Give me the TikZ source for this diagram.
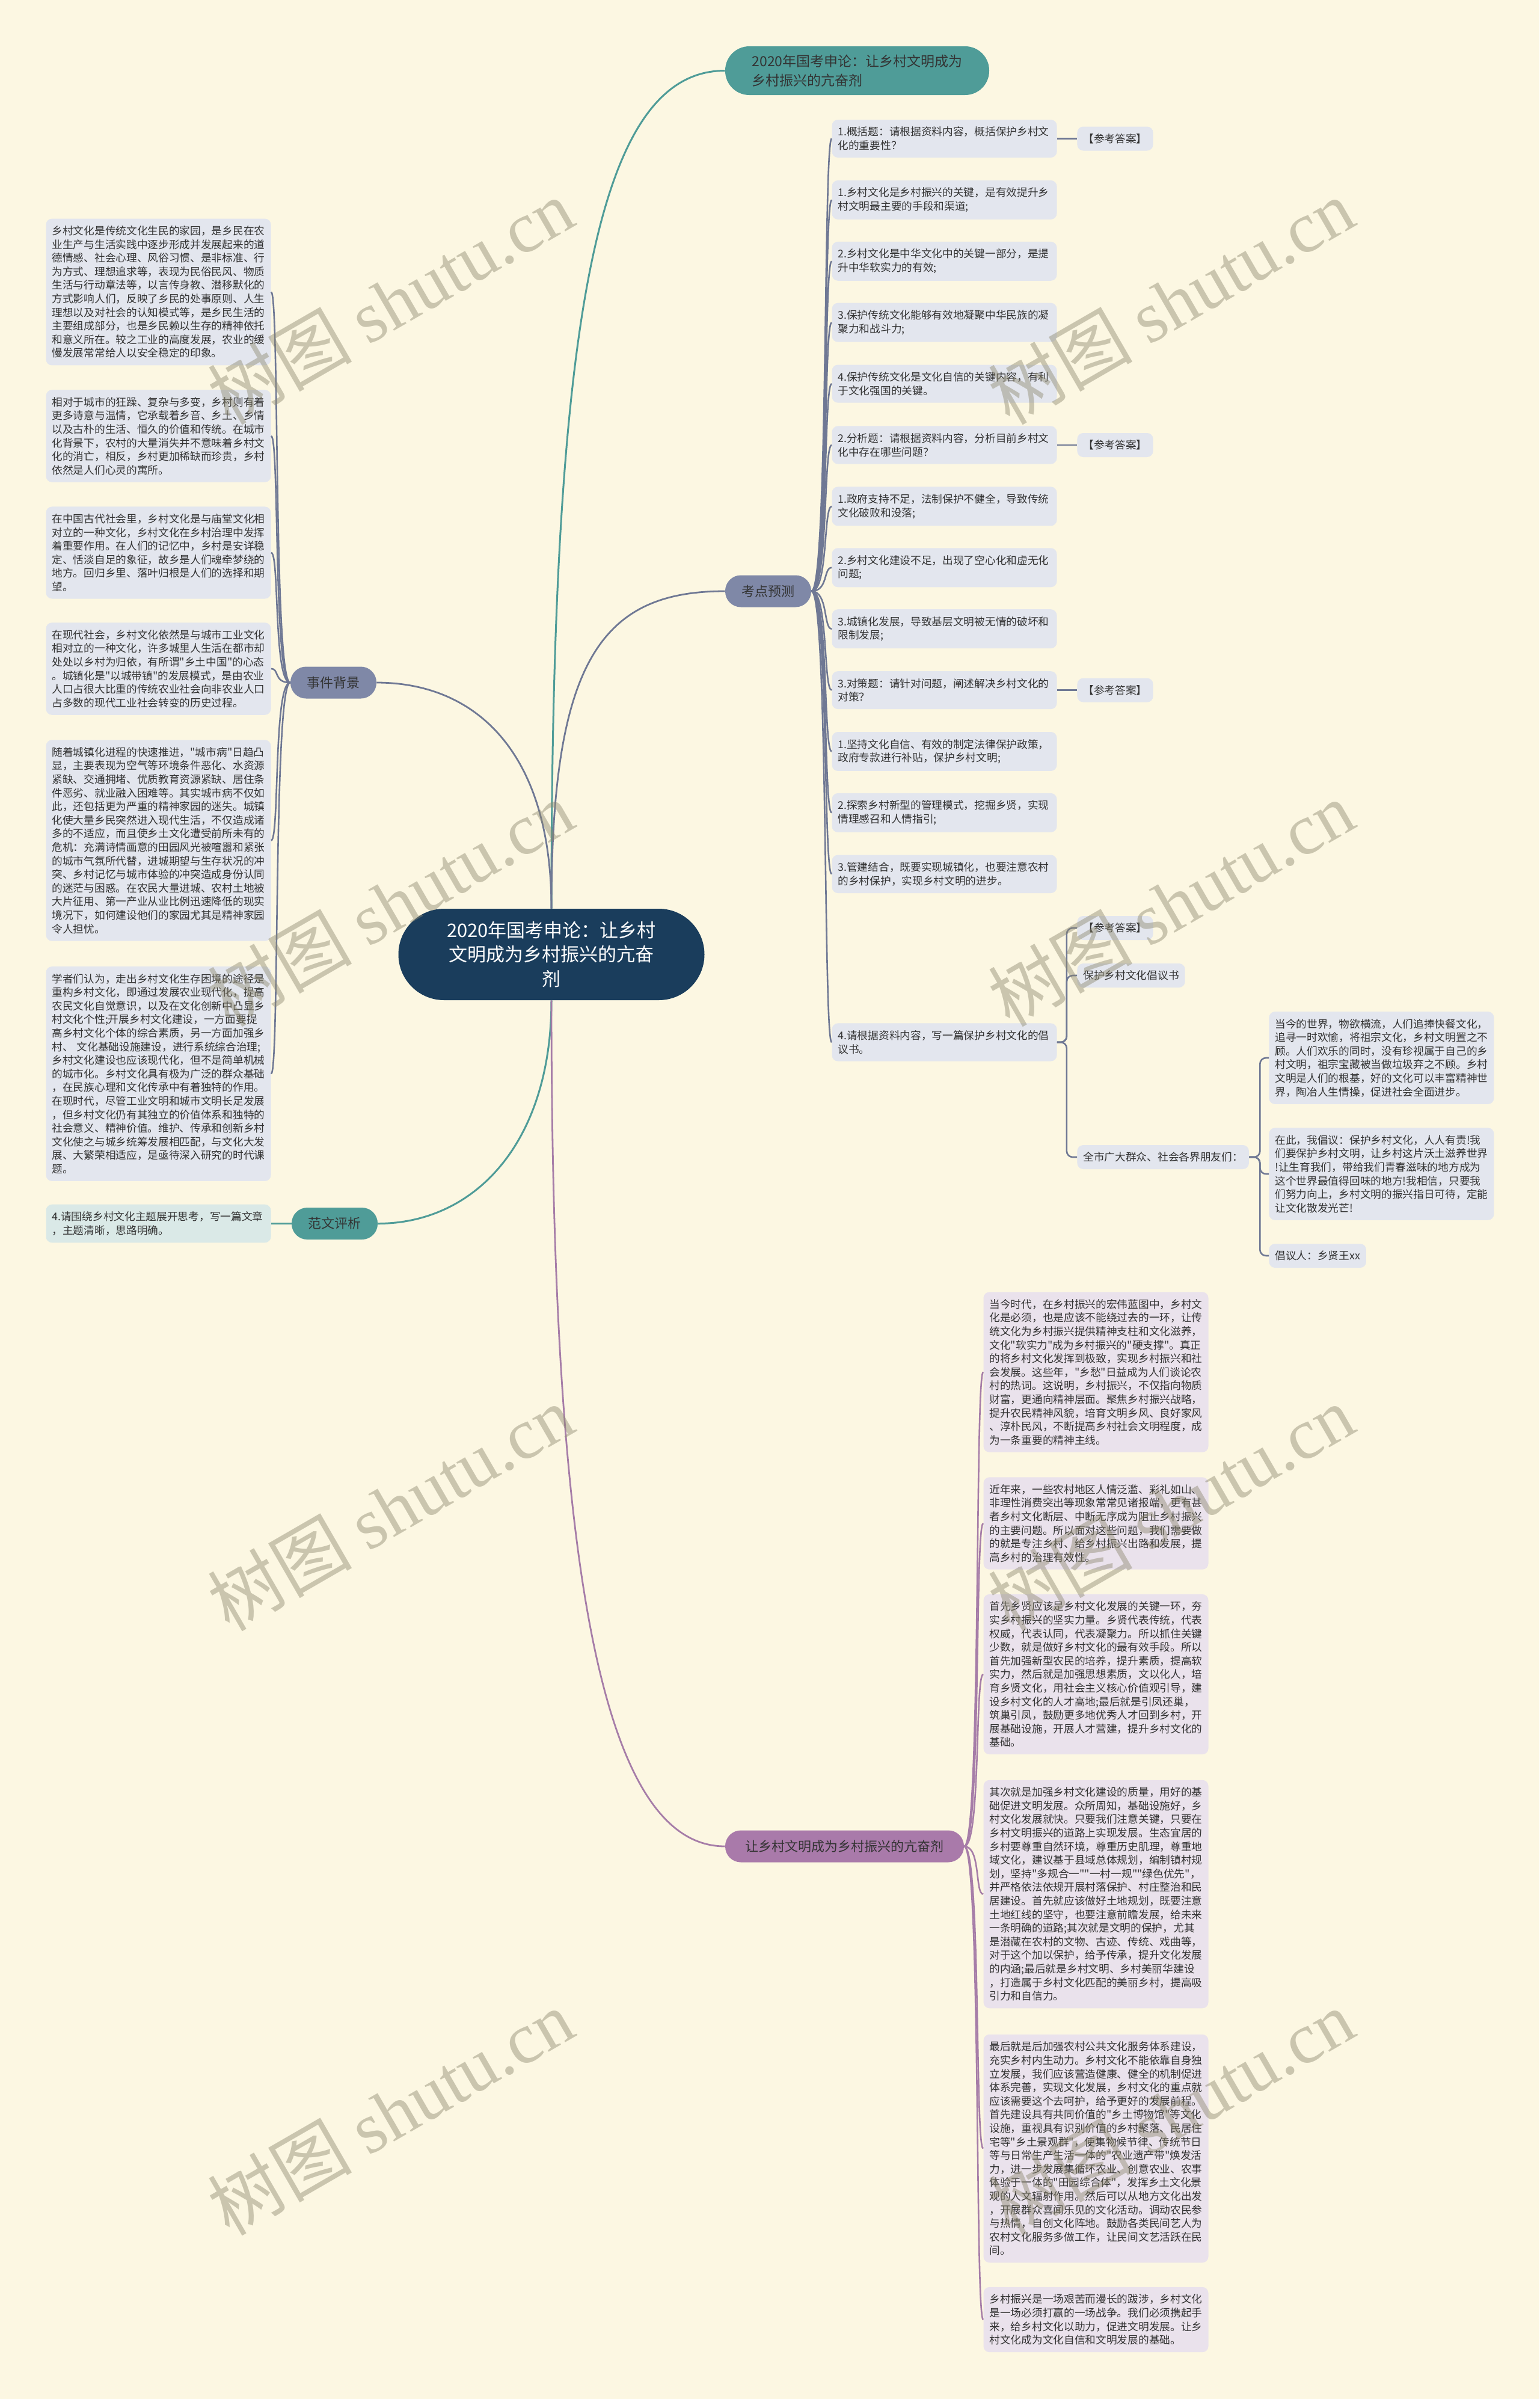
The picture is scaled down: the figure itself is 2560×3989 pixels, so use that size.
\documentclass[tikz,border=0pt]{standalone}
\usepackage{fontspec}
\setmainfont{Noto Sans CJK SC}
\newfontfamily\cjkfont{Noto Sans CJK SC}
\newfontfamily\wmfont{Liberation Serif}
\usetikzlibrary{calc}
\definecolor{bgc}{HTML}{FCF7E2}
\definecolor{rootc}{HTML}{1A3D5C}
\definecolor{tealc}{HTML}{4F9C98}
\definecolor{gbc}{HTML}{7F88A7}
\definecolor{purc}{HTML}{A97AAA}
\definecolor{gbleaf}{HTML}{E3E6EE}
\definecolor{tealleaf}{HTML}{DAE9E7}
\definecolor{purleaf}{HTML}{EAE2EC}
\definecolor{gblinec}{HTML}{6F7894}
\definecolor{purlinec}{HTML}{A67DA8}
\definecolor{txt}{HTML}{333333}
\definecolor{wmc}{HTML}{8E8970}
\tikzset{
  leaf/.style={rectangle, rounded corners=5pt, inner xsep=5pt, inner ysep=6pt, text width=177pt, align=left, font=\cjkfont\fontsize{8.85}{11.3}\selectfont, text=txt},
  gbleafbox/.style={leaf, fill=gbleaf},
  tealleafbox/.style={leaf, fill=tealleaf},
  purleafbox/.style={leaf, fill=purleaf},
  shortleaf/.style={rectangle, rounded corners=5pt, inner xsep=5pt, inner ysep=0pt, minimum height=20pt, font=\cjkfont\fontsize{8.85}{11.3}\selectfont, text=txt, fill=gbleaf, anchor=west},
  mainbox/.style={rectangle, rounded corners=13pt, minimum width=71.5pt, minimum height=26.5pt, inner xsep=8pt, font=\cjkfont\fontsize{11}{13}\selectfont, text=txt},
  gbmain/.style={mainbox, fill=gbc},
  tealmain/.style={mainbox, fill=tealc},
  purmain/.style={mainbox, fill=purc, minimum width=198.5pt},
  rootnode/.style={rectangle, rounded corners=38pt, minimum width=254.5pt, minimum height=76pt, fill=rootc, text=white, align=center, font=\cjkfont\fontsize{15.5}{20.25}\selectfont},
  topnode/.style={rectangle, rounded corners=20pt, minimum width=219.5pt, minimum height=40.5pt, fill=tealc, text=txt, align=left, font=\cjkfont\fontsize{11.5}{15.75}\selectfont},
  tealline/.style={draw=tealc, line width=1.5pt},
  gbline/.style={draw=gblinec, line width=1.4pt},
  gbsub/.style={draw=gblinec, line width=1.3pt},
  purline/.style={draw=purlinec, line width=1.4pt},
  watermark/.style={rotate=30, text=wmc, opacity=0.45, font=\cjkfont\fontsize{60}{60}\selectfont}
}
\begin{document}
\begin{tikzpicture}[x=0.5pt,y=-0.5pt]
\fill[bgc] (0,0) rectangle (2560,3989);
\useasboundingbox (0,0) rectangle (2560,3989);

% main nodes
\node[rootnode] (root) at (917,1587) {2020年国考申论：让乡村\\文明成为乡村振兴的亢奋\\剂};
\node[topnode] (top) at (1425.5,117.5) {2020年国考申论：让乡村文明成为\\乡村振兴的亢奋剂};
\node[gbmain] (kd) at (1277.5,983) {考点预测};
\node[gbmain] (sj) at (554.5,1135) {事件背景};
\node[tealmain] (fw) at (556.5,2034.5) {范文评析};
\node[purmain] (pp) at (1404.5,3070) {让乡村文明成为乡村振兴的亢奋剂};

% kaodian items
\node[gbleafbox] (k1) at (1570.5,230.5) {1.概括题：请根据资料内容，概括保护乡村文\\化的重要性？};
\node[gbleafbox] (k2) at (1570.5,332.4) {1.乡村文化是乡村振兴的关键，是有效提升乡\\村文明最主要的手段和渠道;};
\node[gbleafbox] (k3) at (1570.5,434.3) {2.乡村文化是中华文化中的关键一部分，是提\\升中华软实力的有效;};
\node[gbleafbox] (k4) at (1570.5,536.2) {3.保护传统文化能够有效地凝聚中华民族的凝\\聚力和战斗力;};
\node[gbleafbox] (k5) at (1570.5,638.1) {4.保护传统文化是文化自信的关键内容，有利\\于文化强国的关键。};
\node[gbleafbox] (k6) at (1570.5,740) {2.分析题：请根据资料内容，分析目前乡村文\\化中存在哪些问题？};
\node[gbleafbox] (k7) at (1570.5,841.9) {1.政府支持不足，法制保护不健全，导致传统\\文化破败和没落;};
\node[gbleafbox] (k8) at (1570.5,943.8) {2.乡村文化建设不足，出现了空心化和虚无化\\问题;};
\node[gbleafbox] (k9) at (1570.5,1045.7) {3.城镇化发展，导致基层文明被无情的破坏和\\限制发展;};
\node[gbleafbox] (k10) at (1570.5,1147.6) {3.对策题：请针对问题，阐述解决乡村文化的\\对策？};
\node[gbleafbox] (k11) at (1570.5,1249.5) {1.坚持文化自信、有效的制定法律保护政策，\\政府专款进行补贴，保护乡村文明;};
\node[gbleafbox] (k12) at (1570.5,1351.4) {2.探索乡村新型的管理模式，挖掘乡贤，实现\\情理感召和人情指引;};
\node[gbleafbox] (k13) at (1570.5,1453.3) {3.管建结合，既要实现城镇化，也要注意农村\\的乡村保护，实现乡村文明的进步。};
\node[gbleafbox] (k14) at (1570.5,1733) {4.请根据资料内容，写一篇保护乡村文化的倡\\议书。};

\node[shortleaf] (r1) at (1791,230.5) {【参考答案】};
\node[shortleaf] (r6) at (1791,740) {【参考答案】};
\node[shortleaf] (r10) at (1791,1147.6) {【参考答案】};
\node[shortleaf] (r14) at (1791,1543) {【参考答案】};
\node[shortleaf] (bh) at (1791,1622) {保护乡村文化倡议书};
\node[shortleaf] (qs) at (1791,1924) {全市广大群众、社会各界朋友们：};
\node[gbleafbox, anchor=west] (ta) at (2110,1759) {当今的世界，物欲横流，人们追捧快餐文化，\\追寻一时欢愉，将祖宗文化，乡村文明置之不\\顾。人们欢乐的同时，没有珍视属于自己的乡\\村文明，祖宗宝藏被当做垃圾弃之不顾。乡村\\文明是人们的根基，好的文化可以丰富精神世\\界，陶冶人生情操，促进社会全面进步。};
\node[gbleafbox, anchor=west] (tb) at (2110,1952) {在此，我倡议：保护乡村文化，人人有责!我\\们要保护乡村文明，让乡村这片沃土滋养世界\\!让生育我们，带给我们青春滋味的地方成为\\这个世界最值得回味的地方!我相信，只要我\\们努力向上，乡村文明的振兴指日可待，定能\\让文化散发光芒!};
\node[shortleaf] (tc) at (2110,2088) {倡议人：乡贤王xx};

% left boxes
\node[gbleafbox] (L1) at (263.5,485.5) {乡村文化是传统文化生民的家园，是乡民在农\\业生产与生活实践中逐步形成并发展起来的道\\德情感、社会心理、风俗习惯、是非标准、行\\为方式、理想追求等，表现为民俗民风、物质\\生活与行动章法等，以言传身教、潜移默化的\\方式影响人们，反映了乡民的处事原则、人生\\理想以及对社会的认知模式等，是乡民生活的\\主要组成部分，也是乡民赖以生存的精神依托\\和意义所在。较之工业的高度发展，农业的缓\\慢发展常常给人以安全稳定的印象。};
\node[gbleafbox] (L2) at (263.5,725) {相对于城市的狂躁、复杂与多变，乡村则有着\\更多诗意与温情，它承载着乡音、乡土、乡情\\以及古朴的生活、恒久的价值和传统。在城市\\化背景下，农村的大量消失并不意味着乡村文\\化的消亡，相反，乡村更加稀缺而珍贵，乡村\\依然是人们心灵的寓所。};
\node[gbleafbox] (L3) at (263.5,919) {在中国古代社会里，乡村文化是与庙堂文化相\\对立的一种文化，乡村文化在乡村治理中发挥\\着重要作用。在人们的记忆中，乡村是安详稳\\定、恬淡自足的象征，故乡是人们魂牵梦绕的\\地方。回归乡里、落叶归根是人们的选择和期\\望。};
\node[gbleafbox] (L4) at (263.5,1112) {在现代社会，乡村文化依然是与城市工业文化\\相对立的一种文化，许多城里人生活在都市却\\处处以乡村为归依，有所谓"乡土中国"的心态\\。城镇化是"以城带镇"的发展模式，是由农业\\人口占很大比重的传统农业社会向非农业人口\\占多数的现代工业社会转变的历史过程。};
\node[gbleafbox] (L5) at (263.5,1397.5) {随着城镇化进程的快速推进，"城市病"日趋凸\\显，主要表现为空气等环境条件恶化、水资源\\紧缺、交通拥堵、优质教育资源紧缺、居住条\\件恶劣、就业融入困难等。其实城市病不仅如\\此，还包括更为严重的精神家园的迷失。城镇\\化使大量乡民突然进入现代生活，不仅造成诸\\多的不适应，而且使乡土文化遭受前所未有的\\危机：充满诗情画意的田园风光被喧嚣和紧张\\的城市气氛所代替，进城期望与生存状况的冲\\突、乡村记忆与城市体验的冲突造成身份认同\\的迷茫与困惑。在农民大量进城、农村土地被\\大片征用、第一产业从业比例迅速降低的现实\\境况下，如何建设他们的家园尤其是精神家园\\令人担忧。};
\node[gbleafbox] (L6) at (263.5,1785.5) {学者们认为，走出乡村文化生存困境的途径是\\重构乡村文化，即通过发展农业现代化，提高\\农民文化自觉意识，以及在文化创新中凸显乡\\村文化个性;开展乡村文化建设，一方面要提\\高乡村文化个体的综合素质，另一方面加强乡\\村、~文化基础设施建设，进行系统综合治理;\\乡村文化建设也应该现代化，但不是简单机械\\的城市化。乡村文化具有极为广泛的群众基础\\，在民族心理和文化传承中有着独特的作用。\\在现时代，尽管工业文明和城市文明长足发展\\，但乡村文化仍有其独立的价值体系和独特的\\社会意义、精神价值。维护、传承和创新乡村\\文化使之与城乡统筹发展相匹配，与文化大发\\展、大繁荣相适应，是亟待深入研究的时代课\\题。};
\node[tealleafbox] (L7) at (263.5,2034.5) {4.请围绕乡村文化主题展开思考，写一篇文章\\，主题清晰，思路明确。};

% purple boxes
\node[purleafbox] (P1) at (1822.5,2281.5) {当今时代，在乡村振兴的宏伟蓝图中，乡村文\\化是必须，也是应该不能绕过去的一环，让传\\统文化为乡村振兴提供精神支柱和文化滋养，\\文化"软实力"成为乡村振兴的"硬支撑"。真正\\的将乡村文化发挥到极致，实现乡村振兴和社\\会发展。这些年，"乡愁"日益成为人们谈论农\\村的热词。这说明，乡村振兴，不仅指向物质\\财富，更通向精神层面。聚焦乡村振兴战略，\\提升农民精神风貌，培育文明乡风、良好家风\\、淳朴民风，不断提高乡村社会文明程度，成\\为一条重要的精神主线。};
\node[purleafbox] (P2) at (1822.5,2533) {近年来，一些农村地区人情泛滥、彩礼如山、\\非理性消费突出等现象常常见诸报端，更有甚\\者乡村文化断层、中断无序成为阻止乡村振兴\\的主要问题。所以面对这些问题，我们需要做\\的就是专注乡村、给乡村振兴出路和发展，提\\高乡村的治理有效性。};
\node[purleafbox] (P3) at (1822.5,2784) {首先乡贤应该是乡村文化发展的关键一环，夯\\实乡村振兴的坚实力量。乡贤代表传统，代表\\权威，代表认同，代表凝聚力。所以抓住关键\\少数，就是做好乡村文化的最有效手段。所以\\首先加强新型农民的培养，提升素质，提高软\\实力，然后就是加强思想素质，文以化人，培\\育乡贤文化，用社会主义核心价值观引导，建\\设乡村文化的人才高地;最后就是引凤还巢，\\筑巢引凤，鼓励更多地优秀人才回到乡村，开\\展基础设施，开展人才营建，提升乡村文化的\\基础。};
\node[purleafbox] (P4) at (1822.5,3149.5) {其次就是加强乡村文化建设的质量，用好的基\\础促进文明发展。众所周知，基础设施好，乡\\村文化发展就快。只要我们注意关键，只要在\\乡村文明振兴的道路上实现发展。生态宜居的\\乡村要尊重自然环境，尊重历史肌理，尊重地\\域文化，建议基于县域总体规划，编制镇村规\\划，坚持"多规合一""一村一规""绿色优先"，\\并严格依法依规开展村落保护、村庄整治和民\\居建设。首先就应该做好土地规划，既要注意\\土地红线的坚守，也要注意前瞻发展，给未来\\一条明确的道路;其次就是文明的保护，尤其\\是潜藏在农村的文物、古迹、传统、戏曲等，\\对于这个加以保护，给予传承，提升文化发展\\的内涵;最后就是乡村文明、乡村美丽华建设\\，打造属于乡村文化匹配的美丽乡村，提高吸\\引力和自信力。};
\node[purleafbox] (P5) at (1822.5,3572.5) {最后就是后加强农村公共文化服务体系建设，\\充实乡村内生动力。乡村文化不能依靠自身独\\立发展，我们应该营造健康、健全的机制促进\\体系完善，实现文化发展，乡村文化的重点就\\应该需要这个去呵护，给予更好的发展前程。\\首先建设具有共同价值的"乡土博物馆"等文化\\设施，重视具有识别价值的乡村聚落、民居住\\宅等"乡土景观群"，使集物候节律、传统节日\\等与日常生产生活一体的"农业遗产带"焕发活\\力，进一步发展集循环农业、创意农业、农事\\体验于一体的"田园综合体"，发挥乡土文化景\\观的人文辐射作用。然后可以从地方文化出发\\，开展群众喜闻乐见的文化活动。调动农民参\\与热情，自创文化阵地。鼓励各类民间艺人为\\农村文化服务多做工作，让民间文艺活跃在民\\间。};
\node[purleafbox] (P6) at (1822.5,3857) {乡村振兴是一场艰苦而漫长的跋涉，乡村文化\\是一场必须打赢的一场战争。我们必须携起手\\来，给乡村文化以助力，促进文明发展。让乡\\村文化成为文化自信和文明发展的基础。};

% main connectors
\draw[tealline] (root.north) .. controls ($(root.north)+(0,-1011)$) and ($(top.west)+(-206,0)$) .. (top.west);
\draw[gbline] (root.north) .. controls ($(root.north)+(0,-411)$) and ($(kd.west)+(-206,0)$) .. (kd.west);
\draw[gbline] (root.north) .. controls ($(root.north)+(0,-261)$) and ($(sj.east)+(164,0)$) .. (sj.east);
\draw[tealline] (root.south) .. controls ($(root.south)+(0,237)$) and ($(fw.east)+(161,0)$) .. (fw.east);
\draw[purline] (root.south) .. controls ($(root.south)+(0,937)$) and ($(pp.west)+(-206,0)$) .. (pp.west);

% kaodian children
\foreach \k in {1,...,14}{
  \draw[gbsub] (kd.east) .. controls +(28,0) and +(-14,0) .. (k\k.west);
}
\draw[gbsub] (k1.east) -- (r1.west);
\draw[gbsub] (k6.east) -- (r6.west);
\draw[gbsub] (k10.east) -- (r10.west);
\draw[gbsub, rounded corners=5pt] (k14.east) -- ++(16,0) |- (r14.west);
\draw[gbsub, rounded corners=5pt] (k14.east) -- ++(16,0) |- (bh.west);
\draw[gbsub, rounded corners=5pt] (k14.east) -- ++(16,0) |- (qs.west);
\draw[gbsub, rounded corners=5pt] (qs.east) -- ++(18,0) |- (ta.west);
\draw[gbsub, rounded corners=5pt] (qs.east) -- ++(18,0) |- (tb.west);
\draw[gbsub, rounded corners=5pt] (qs.east) -- ++(18,0) |- (tc.west);

% left children
\foreach \k in {1,...,6}{
  \draw[gbsub] (sj.west) .. controls +(-28,0) and +(14,0) .. (L\k.east);
}
\draw[draw=tealc, line width=1.3pt] (fw.west) -- (L7.east);

% purple children
\foreach \k in {1,...,6}{
  \draw[draw=purlinec, line width=1.3pt] (pp.east) .. controls +(28,0) and +(-14,0) .. (P\k.west);
}

% watermarks
\foreach \wx/\wy [count=\i] in {649/501, 1947/501, 649/1502, 1947/1502, 649/2507, 1947/2507, 649/3512, 1947/3512}{
  \node[watermark] (wm\i) at (\wx,\wy) {树图 {\wmfont shutu.cn}};
}
\end{tikzpicture}
\end{document}
